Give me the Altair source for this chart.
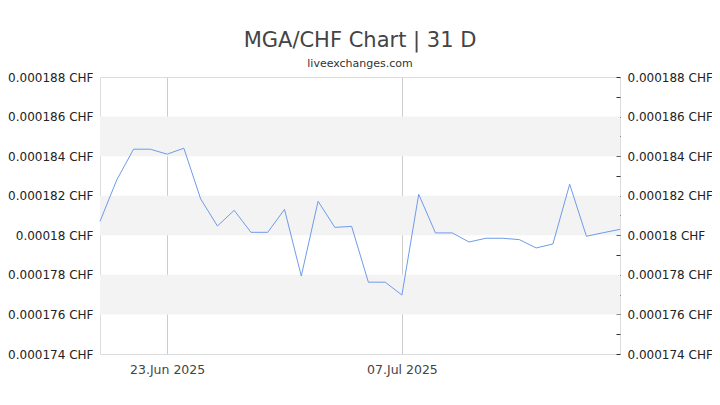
import altair as alt
import pandas as pd

# Data
dates = pd.date_range("2025-06-19", periods=32, freq="D").strftime("%Y-%m-%dT00:00:00").tolist()
rates = [
    0.0001807, 0.0001828, 0.00018435, 0.00018435, 0.0001841, 0.0001844,
    0.00018184, 0.00018047, 0.00018126, 0.00018015, 0.00018015, 0.00018131,
    0.00017794, 0.00018172, 0.0001804, 0.00018045, 0.00017763, 0.00017763,
    0.00017698, 0.00018207, 0.00018012, 0.00018012, 0.00017966, 0.00017985,
    0.00017985, 0.00017978, 0.00017936, 0.00017956, 0.00018258, 0.00017995,
    0.00018013, 0.0001803,
]
band_lo = [0.000176, 0.000180, 0.000184]
band_hi = [0.000178, 0.000182, 0.000186]
y_domain = [0.000174, 0.000188]
label_values = [0.000174, 0.000176, 0.000178, 0.000180, 0.000182, 0.000184, 0.000186, 0.000188]
tick_values = [0.000174 + i * 0.000001 for i in range(15)]

df = pd.DataFrame({"date": dates, "rate": rates})
bands = pd.DataFrame({"lo": band_lo, "hi": band_hi})

FONT = "DejaVu Sans"
W, H = 520, 277

x_domain = [alt.DateTime(year=2025, month=6, date=19), alt.DateTime(year=2025, month=7, date=20)]
x_vals = [alt.DateTime(year=2025, month=6, date=23), alt.DateTime(year=2025, month=7, date=7)]

band_layer = alt.Chart(bands).mark_rect(color="#f3f3f3").encode(
    y=alt.Y("lo:Q", scale=alt.Scale(domain=y_domain, zero=False, nice=False),
            axis=alt.Axis(orient="right", values=tick_values, offset=-4, tickSize=4,
                          tickColor="#333", domain=False, grid=False, labelPadding=7,
                          labelExpr="round(datum.value*1e6) % 2 == 0 ? format(datum.value, '.6~f') + ' CHF' : ''",
                          labelFont=FONT, labelFontSize=12, labelColor="#222", title=None)),
    y2="hi:Q",
)

line_layer = alt.Chart(df).mark_line(color="#6f9bea", strokeWidth=1).encode(
    x=alt.X("date:T", scale=alt.Scale(domain=x_domain),
            axis=alt.Axis(values=x_vals, format="%d.%b %Y", ticks=False, domain=False,
                          grid=True, gridColor="#cccccc", gridWidth=1,
                          labelFont=FONT, labelFontSize=12.5, labelColor="#444",
                          labelPadding=9, title=None)),
    y=alt.Y("rate:Q", scale=alt.Scale(domain=y_domain, zero=False, nice=False),
            axis=alt.Axis(orient="left", values=label_values, ticks=False, domain=False,
                          grid=False, labelPadding=7,
                          labelExpr="format(datum.value, '.6~f') + ' CHF'",
                          labelFont=FONT, labelFontSize=12, labelColor="#222", title=None)),
)

chart = alt.layer(band_layer, line_layer).resolve_scale(y="independent").properties(
    width=W, height=H,
    autosize=alt.AutoSizeParams(type="none"),
    padding={"left": 92, "top": 69, "right": 92, "bottom": 43},
    title=alt.TitleParams(
        text="MGA/CHF Chart | 31 D",
        subtitle="liveexchanges.com",
        font=FONT, fontSize=21, fontWeight="normal", color="#444",
        subtitleFont=FONT, subtitleFontSize=11, subtitleColor="#333",
        subtitlePadding=7, anchor="middle", offset=2,
    ),
).configure_view(stroke="#d4d4d4", strokeWidth=1).configure(background="white")

chart.save("out.html", embed_options={"renderer": "svg", "actions": False})
